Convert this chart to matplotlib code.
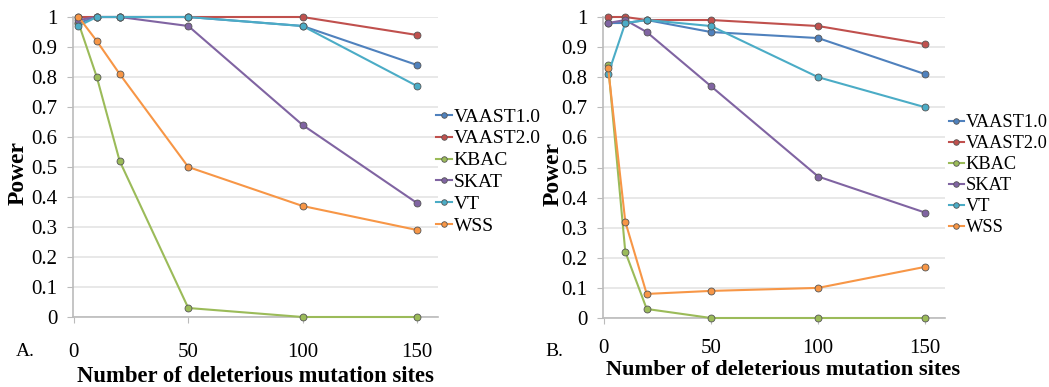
import numpy as np
import matplotlib
matplotlib.use("Agg")
from matplotlib import pyplot as plt

plt.rcParams['font.family'] = ['Liberation Serif', 'DejaVu Serif']

sites = [2, 10, 20, 50, 100, 150]
methods = ["VAAST1.0", "VAAST2.0", "KBAC", "SKAT", "VT", "WSS"]
colors = ["#4F81BD", "#C0504D", "#9BBB59", "#8064A2", "#4BACC6", "#F79646"]

# panel A
a_vaast1 = [0.98, 1.0, 1.0, 1.0, 0.97, 0.84]
a_vaast2 = [1.0, 1.0, 1.0, 1.0, 1.0, 0.94]
a_kbac = [0.98, 0.80, 0.52, 0.03, 0.0, 0.0]
a_skat = [0.99, 1.0, 1.0, 0.97, 0.64, 0.38]
a_vt = [0.97, 1.0, 1.0, 1.0, 0.97, 0.77]
a_wss = [1.0, 0.92, 0.81, 0.50, 0.37, 0.29]

# panel B
b_vaast1 = [0.98, 0.98, 0.99, 0.95, 0.93, 0.81]
b_vaast2 = [1.0, 1.0, 0.99, 0.99, 0.97, 0.91]
b_kbac = [0.84, 0.22, 0.03, 0.0, 0.0, 0.0]
b_skat = [0.98, 0.99, 0.95, 0.77, 0.47, 0.35]
b_vt = [0.81, 0.98, 0.99, 0.97, 0.80, 0.70]
b_wss = [0.83, 0.32, 0.08, 0.09, 0.10, 0.17]

panel_a = [a_vaast1, a_vaast2, a_kbac, a_skat, a_vt, a_wss]
panel_b = [b_vaast1, b_vaast2, b_kbac, b_skat, b_vt, b_wss]

fig = plt.figure(figsize=(10.49, 3.87), dpi=100)
W, H = 1049, 387


def make_ax(l, r, t, b):
    return fig.add_axes([l / W, 1 - b / H, (r - l) / W, (b - t) / H])


ax_a = make_ax(73, 438, 17, 317)
ax_b = make_ax(603, 945, 17, 318)

setups = [(ax_a, panel_a, 0.995, 0.485, 14, 15),
          (ax_b, panel_b, 1.012, 0.475, 13.2, 11)]
for ax, data, legx, legy, legfs, xpad in setups:
    for name, vals, c in zip(methods, data, colors):
        ax.plot(sites, vals, color=c, lw=1.5, marker='o', ms=5,
                mfc=c, mec='#555555', mew=0.6, label=name, clip_on=False, zorder=3)
    ax.set_xlim(-0.4, 159.2)
    ax.set_ylim(0, 1)
    ax.set_xticks([0, 50, 100, 150])
    ax.set_yticks(np.arange(0, 1.01, 0.1))
    ax.set_yticklabels(["0", "0.1", "0.2", "0.3", "0.4", "0.5", "0.6", "0.7", "0.8", "0.9", "1"])
    ax.grid(axis='y', color='#e4e4e4', lw=1.2)
    ax.set_axisbelow(True)
    for s in ['top', 'right']:
        ax.spines[s].set_visible(False)
    for s in ['left', 'bottom']:
        ax.spines[s].set_color('#bbbbbb')
        ax.spines[s].set_linewidth(1.2)
    ax.tick_params(axis='x', length=4, color='#bbbbbb', labelsize=15, pad=xpad)
    ax.tick_params(axis='y', length=4, color='#bbbbbb', labelsize=15, pad=7)
    ax.legend(loc='center left', bbox_to_anchor=(legx, legy), frameon=False,
              fontsize=legfs, handlelength=0.8, handletextpad=0.1,
              labelspacing=0.22, borderpad=0, borderaxespad=0, markerscale=0.8)

fig.text(25 / W, 1 - 351 / H, "A.", fontsize=14, va='center', ha='center')
fig.text(554 / W, 1 - 352 / H, "B.", fontsize=14, va='center', ha='center')
fig.text(255 / W, 1 - 376 / H, "Number of deleterious mutation sites",
         fontsize=16.3, fontweight='bold', ha='center', va='center')
fig.text(783 / W, 1 - 370 / H, "Number of deleterious mutation sites",
         fontsize=16.1, fontweight='bold', ha='center', va='center')
fig.text(18 / W, 1 - 173 / H, "Power", fontsize=17, fontweight='bold',
         rotation=90, ha='center', va='center')
fig.text(553 / W, 1 - 174 / H, "Power", fontsize=17, fontweight='bold',
         rotation=90, ha='center', va='center')

fig.savefig("out.png", dpi=100)
